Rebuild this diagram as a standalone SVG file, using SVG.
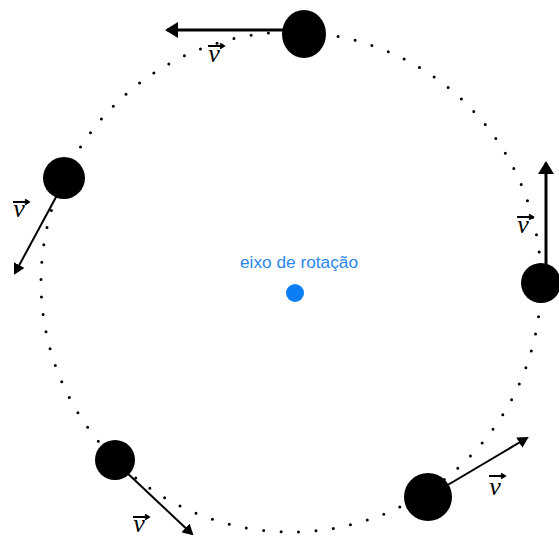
<svg xmlns="http://www.w3.org/2000/svg" xmlns:xlink="http://www.w3.org/1999/xlink" width="559" height="540" viewBox="0 0 559 540">
  <style>
    .ball { fill: #000; }
    .orbit { fill: none; stroke: #000; stroke-width: 3; stroke-linecap: round; stroke-dasharray: 0 17.5; }
    .arrow { fill: none; stroke: #000; }
    .vlab { font-family: "Liberation Serif", "DejaVu Serif", serif; font-style: italic; font-size: 26px; fill: #000; text-anchor: middle; }
    .vbar { fill: none; stroke: #000; stroke-width: 1.8; }
    .axis { font-family: "Liberation Sans", Arial, sans-serif; font-size: 16px; fill: #2a88ea; }
  </style>
  <defs>
    <marker id="headL" markerUnits="userSpaceOnUse" markerWidth="14" markerHeight="16" refX="11" refY="8" orient="auto">
      <path d="M0,0 L13,8 L0,16 z" fill="#000"/>
    </marker>
    <marker id="headS" markerUnits="userSpaceOnUse" markerWidth="12" markerHeight="12" refX="9" refY="6" orient="auto">
      <path d="M0,0 L11,6 L0,12 z" fill="#000"/>
    </marker>
    <path id="vecbar" class="vbar" d="M-8,0 H7 M4,-2.5 L8,0 L4,2.5"/>
  </defs>

  <rect width="559" height="540" fill="#fff"/>

  <g id="orbit">
    <circle class="orbit" cx="291" cy="282" r="250"/>
  </g>

  <g id="axis">
    <text class="axis" x="240" y="268" textLength="118" lengthAdjust="spacingAndGlyphs">eixo de rotação</text>
    <circle cx="295" cy="293" r="9" fill="#0b7df5"/>
  </g>

  <g id="connectors">
    <line class="arrow" x1="283" y1="30" x2="167" y2="30" stroke-width="3" marker-end="url(#headL)"/>
    <line class="arrow" x1="62" y1="186" x2="15" y2="273" stroke-width="2" marker-end="url(#headS)"/>
    <line class="arrow" x1="546" y1="268" x2="546" y2="163" stroke-width="3" marker-end="url(#headL)"/>
    <line class="arrow" x1="124" y1="470" x2="192" y2="534" stroke-width="2" marker-end="url(#headS)"/>
    <line class="arrow" x1="446" y1="486" x2="527" y2="438" stroke-width="2" marker-end="url(#headS)"/>
  </g>

  <g id="labels">
    <g id="v-top"><use xlink:href="#vecbar" x="216" y="46"/><text class="vlab" x="214" y="62">v</text></g>
    <g id="v-left"><use xlink:href="#vecbar" x="21" y="202"/><text class="vlab" x="19" y="217">v</text></g>
    <g id="v-right"><use xlink:href="#vecbar" x="525" y="217"/><text class="vlab" x="523" y="233">v</text></g>
    <g id="v-bl"><use xlink:href="#vecbar" x="141" y="517"/><text class="vlab" x="139" y="532">v</text></g>
    <g id="v-br"><use xlink:href="#vecbar" x="497" y="476"/><text class="vlab" x="495" y="495">v</text></g>
  </g>

  <g id="ball-top"><ellipse class="ball" cx="304" cy="34" rx="22" ry="24"/></g>
  <g id="ball-left"><circle class="ball" cx="64" cy="178" r="21"/></g>
  <g id="ball-right"><circle class="ball" cx="541" cy="283" r="20"/></g>
  <g id="ball-bottom-left"><circle class="ball" cx="115" cy="460" r="20"/></g>
  <g id="ball-bottom-right"><circle class="ball" cx="428" cy="497" r="24"/></g>
</svg>
